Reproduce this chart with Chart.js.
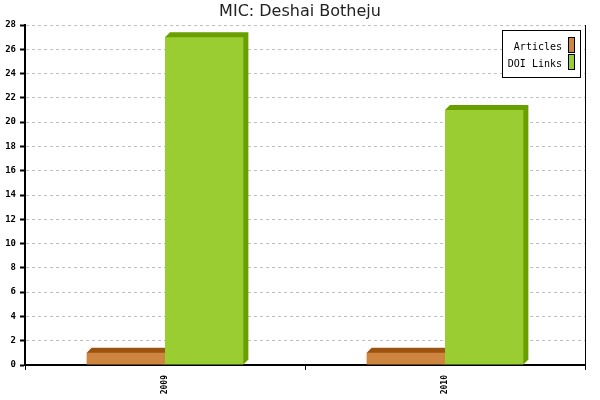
<!DOCTYPE html>
<html>
<head>
<meta charset="utf-8">
<script src="https://cdn.jsdelivr.net/npm/chart.js@4.4.0/dist/chart.umd.min.js"></script>
<style>
html,body{margin:0;padding:0;background:#fff;}
#wrap{width:600px;height:400px;}
</style>
</head>
<body>
<div id="wrap"><canvas id="c" width="600" height="400"></canvas></div>
<script>
const titleText = "MIC: Deshai Botheju";
const categories = ["2009", "2010"];
const seriesNames = ["Articles", "DOI Links"];
const articles = [1, 1];
const doiLinks = [27, 21];
const yTicks = [0, 2, 4, 6, 8, 10, 12, 14, 16, 18, 20, 22, 24, 26, 28];

const frontColors = ["#CD853F", "#9ACD32"];
const darkColors = ["#9C5312", "#6A9F00"];
const DEPTH = 5;

const bar3d = {
  id: 'bar3d',
  beforeDatasetsDraw(chart) {
    const ctx = chart.ctx;
    ctx.save();
    chart.data.datasets.forEach((ds, di) => {
      const meta = chart.getDatasetMeta(di);
      ctx.fillStyle = darkColors[di];
      meta.data.forEach(el => {
        const p = el.getProps(['x', 'y', 'base', 'width'], true);
        const l = p.x - p.width / 2, r = p.x + p.width / 2;
        ctx.beginPath();
        ctx.moveTo(l, p.y);
        ctx.lineTo(l + DEPTH, p.y - DEPTH);
        ctx.lineTo(r + DEPTH, p.y - DEPTH);
        ctx.lineTo(r + DEPTH, p.base - DEPTH);
        ctx.lineTo(r, p.base);
        ctx.closePath();
        ctx.fill();
      });
    });
    ctx.restore();
  },
  afterDraw(chart) {
    const ctx = chart.ctx;
    const a = chart.chartArea;
    ctx.save();
    ctx.fillStyle = '#000';
    // right frame line
    ctx.fillRect(Math.round(a.right), Math.round(a.top), 1, Math.round(a.bottom - a.top) + 5);
    // title
    ctx.fillStyle = '#222';
    ctx.font = '16px "DejaVu Sans"';
    ctx.textAlign = 'center';
    ctx.textBaseline = 'alphabetic';
    ctx.fillText(titleText, 300, 16);
    // legend
    const bx = 502.5, by = 30.5, bw = 78, bh = 47;
    ctx.fillStyle = '#fff';
    ctx.fillRect(bx, by, bw, bh);
    ctx.strokeStyle = '#000';
    ctx.lineWidth = 1;
    ctx.strokeRect(bx, by, bw, bh);
    ctx.font = '10px "DejaVu Sans Mono"';
    ctx.textAlign = 'right';
    seriesNames.forEach((n, i) => {
      const y0 = 37 + i * 17;
      ctx.fillStyle = '#000';
      ctx.fillText(n, 562, y0 + 13);
      ctx.fillStyle = frontColors[i];
      ctx.fillRect(568.5, y0 + 0.5, 6, 15);
      ctx.strokeRect(568.5, y0 + 0.5, 6, 15);
    });
    ctx.restore();
  }
};

new Chart(document.getElementById('c'), {
  type: 'bar',
  data: {
    labels: categories,
    datasets: [
      { label: seriesNames[0], data: articles, backgroundColor: frontColors[0], borderWidth: 0,
        categoryPercentage: 0.56, barPercentage: 1.0 },
      { label: seriesNames[1], data: doiLinks, backgroundColor: frontColors[1], borderWidth: 0,
        categoryPercentage: 0.56, barPercentage: 1.0 }
    ]
  },
  options: {
    responsive: false,
    animation: false,
    devicePixelRatio: 1,
    layout: { padding: { top: 25, right: 15, left: 0, bottom: 0 } },
    plugins: {
      legend: { display: false },
      title: { display: false },
      tooltip: { enabled: false }
    },
    scales: {
      x: {
        offset: true,
        grid: { offset: true, drawOnChartArea: false, drawTicks: true, tickLength: 5, tickColor: '#000', tickWidth: 1 },
        border: { display: true, color: '#000', width: 2 },
        ticks: { color: '#000', font: { family: 'DejaVu Sans Mono', size: 8, weight: 'bold' }, maxRotation: 90, minRotation: 90, padding: 5 },
        afterFit(s) { s.height = 35; }
      },
      y: {
        min: 0, max: 28,
        afterBuildTicks(s) { s.ticks = yTicks.map(v => ({ value: v })); },
        grid: { color: '#c0c0c0', tickColor: '#000', tickLength: 5, tickWidth: 2, drawTicks: true },
        border: { display: true, color: '#000', width: 2, dash: [3, 3] },
        ticks: { color: '#000', font: { family: 'DejaVu Sans Mono', size: 9, weight: 'bold' }, padding: 4 },
        afterFit(s) { s.width = 25; }
      }
    }
  },
  plugins: [bar3d]
});
</script>
</body>
</html>
